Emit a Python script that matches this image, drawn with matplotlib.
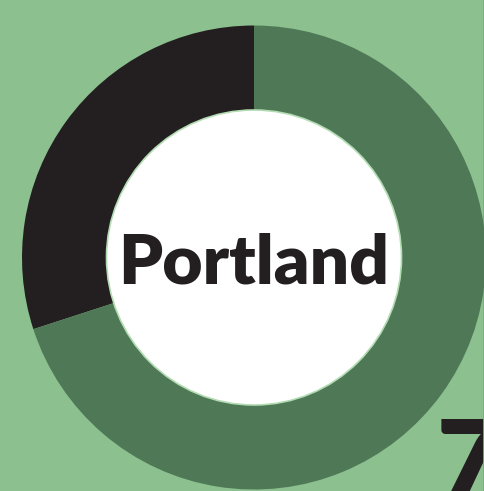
import matplotlib
matplotlib.use("Agg")
import matplotlib.pyplot as plt
from matplotlib.patches import Circle

labels = ["Dark share", "Green share"]
values = [30, 70]
colors = ["#231f20", "#4f7857"]
center_label = "Portland"
corner_label = "7"

W, H = 485, 491
fig = plt.figure(figsize=(W / 100, H / 100), dpi=100)
fig.patch.set_facecolor("#8cc08f")
ax = fig.add_axes([0, 0, 1, 1])
ax.set_facecolor("#8cc08f")

cx, cy = 254, H - 257.5
R_out, R_in = 232, 147.5
ax.pie(values, colors=colors, startangle=90, counterclock=True,
       radius=R_out, center=(cx, cy),
       wedgeprops=dict(width=R_out - R_in, linewidth=0, zorder=4))
ax.add_patch(Circle((cx, cy), R_in, facecolor="white", edgecolor="#b3dcb3", linewidth=1.2, zorder=5))

ax.text(cx, H - 283, center_label, ha="center", va="baseline",
        fontsize=50, fontweight="heavy", family=["Lato", "DejaVu Sans"],
        color="#231f20", zorder=6)
ax.text(437, H - 415, corner_label, ha="left", va="top",
        fontsize=80, fontweight="heavy", family=["Lato", "DejaVu Sans"],
        color="#231f20", zorder=2)
ax.axvline(484, color="#7aae7e", linewidth=2, zorder=3)

ax.set_xlim(0, W)
ax.set_ylim(0, H)
ax.set_aspect("auto")
ax.axis("off")
fig.savefig("out.png", dpi=100, facecolor=fig.get_facecolor())
